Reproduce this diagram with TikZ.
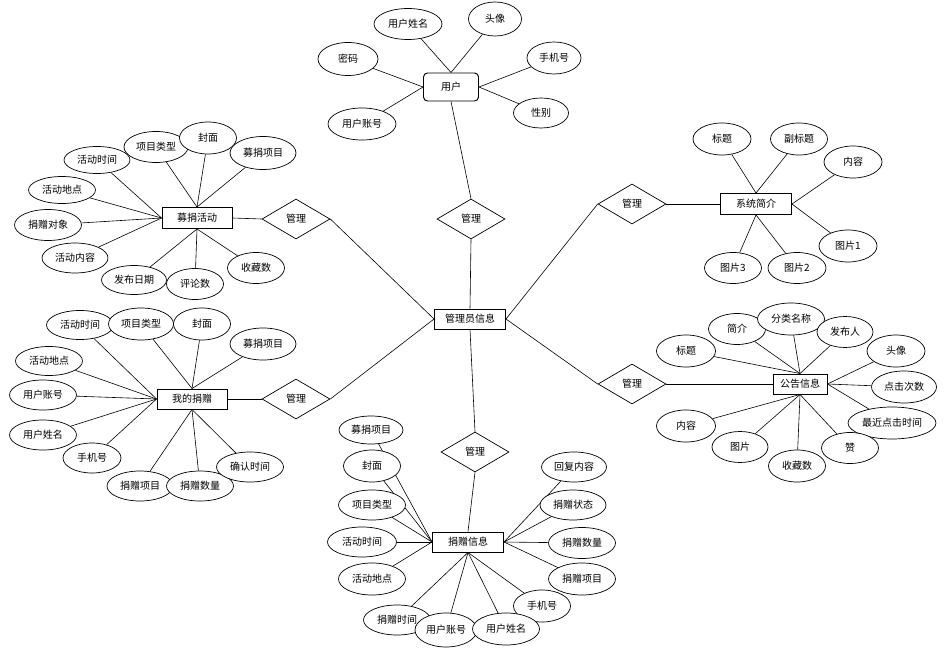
\documentclass[tikz,border=0pt]{standalone}
\usepackage{fontspec}
\newfontfamily\cjk{Noto Sans CJK SC}
\usetikzlibrary{shapes.geometric,backgrounds}
\begin{document}
\begin{tikzpicture}[x=1pt,y=-1pt,
  font=\cjk\fontsize{10}{12}\selectfont,
  attr/.style n args={2}{ellipse,draw,fill=white,line width=0.7pt,inner sep=0pt,minimum width=#1pt,minimum height=#2pt},
  ent/.style n args={2}{rectangle,draw,fill=white,line width=0.95pt,inner sep=0pt,minimum width=#1pt,minimum height=#2pt},
  rel/.style={diamond,draw,fill=white,line width=0.7pt,inner sep=0pt,minimum width=68pt,minimum height=40pt,shape aspect=1.7},
  ln/.style={draw,line width=0.6pt}]
\useasboundingbox (0,0) rectangle (944,652);

% central
\node[ent={71}{20}] (admin) at (470,319) {管理员信息};
\node[rel] (mgT) at (471,219) {管理};
\node[rel] (mgUL) at (296,219) {管理};
\node[rel] (mgLL) at (296,399) {管理};
\node[rel] (mgUR) at (632,204) {管理};
\node[rel] (mgLR) at (632,384) {管理};
\node[rel] (mgB) at (475,452) {管理};

% user
\node[ent={55}{28},rounded corners=4pt] (user) at (451,87) {用户};
\node[attr={68}{31}] (uName) at (408,24) {用户姓名};
\node[attr={53}{34}] (uAv) at (495,19) {头像};
\node[attr={60}{33}] (uPw) at (348,59) {密码};
\node[attr={54}{32}] (uPh) at (554,58) {手机号};
\node[attr={68}{32}] (uAcc) at (362,124) {用户账号};
\node[attr={55}{30}] (uSex) at (541,113) {性别};

% fundraising activity
\node[ent={70}{21}] (act) at (197,218) {募捐活动};
\node[attr={66}{27}] (a1) at (97,160) {活动时间};
\node[attr={64}{31}] (a2) at (156,147) {项目类型};
\node[attr={57}{32}] (a3) at (208,138) {封面};
\node[attr={66}{33}] (a4) at (263,153) {募捐项目};
\node[attr={67}{27}] (a5) at (62,190) {活动地点};
\node[attr={67}{31}] (a6) at (48,225) {捐赠对象};
\node[attr={66}{30}] (a7) at (75,258) {活动内容};
\node[attr={65}{29}] (a8) at (134,280) {发布日期};
\node[attr={57}{31}] (a9) at (195,284) {评论数};
\node[attr={57}{31}] (a10) at (256,268) {收藏数};

% my donation
\node[ent={70}{20}] (my) at (192,399) {我的捐赠};
\node[attr={67}{29}] (m1) at (80,325) {活动时间};
\node[attr={65}{32}] (m2) at (141,324) {项目类型};
\node[attr={57}{32}] (m3) at (202,324) {封面};
\node[attr={66}{32}] (m4) at (263,344) {募捐项目};
\node[attr={67}{29}] (m5) at (49,361) {活动地点};
\node[attr={67}{30}] (m6) at (43,395) {用户账号};
\node[attr={67}{30}] (m7) at (43,435) {用户姓名};
\node[attr={58}{30}] (m8) at (92,458) {手机号};
\node[attr={66}{30}] (m9) at (140,486) {捐赠项目};
\node[attr={67}{30}] (m10) at (200,486) {捐赠数量};
\node[attr={67}{30}] (m11) at (250,467) {确认时间};

% system intro
\node[ent={71}{21}] (sys) at (756,204) {系统简介};
\node[attr={58}{32}] (s1) at (722,139) {标题};
\node[attr={57}{32}] (s2) at (799,139) {副标题};
\node[attr={58}{32}] (s3) at (853,162) {内容};
\node[attr={58}{32}] (s4) at (848,246) {图片1};
\node[attr={57}{31}] (s5) at (733,268) {图片3};
\node[attr={58}{31}] (s6) at (797,268) {图片2};

% announcement
\node[ent={54}{20}] (ann) at (800,384) {公告信息};
\node[attr={59}{32}] (n1) at (686,351) {标题};
\node[attr={57}{31}] (n2) at (737,329) {简介};
\node[attr={67}{32}] (n3) at (791,319) {分类名称};
\node[attr={56}{31}] (n4) at (845,332) {发布人};
\node[attr={58}{32}] (n5) at (896,351) {头像};
\node[attr={65}{32}] (n6) at (904,387) {点击次数};
\node[attr={88}{32}] (n7) at (892,423) {最近点击时间};
\node[attr={57}{31}] (n8) at (850,448) {赞};
\node[attr={57}{32}] (n9) at (797,466) {收藏数};
\node[attr={56}{31}] (n10) at (740,447) {图片};
\node[attr={59}{32}] (n11) at (686,426) {内容};

% donation info
\node[ent={71}{20}] (don) at (468,542) {捐赠信息};
\node[attr={64}{28}] (d1) at (371,430) {募捐项目};
\node[attr={57}{32}] (d2) at (372,466) {封面};
\node[attr={67}{30}] (d3) at (372,505) {项目类型};
\node[attr={69}{30}] (d4) at (362,542) {活动时间};
\node[attr={67}{32}] (d5) at (372,579) {活动地点};
\node[attr={65}{30}] (d6) at (574,467) {回复内容};
\node[attr={66}{30}] (d7) at (573,505) {捐赠状态};
\node[attr={67}{31}] (d8) at (582,543) {捐赠数量};
\node[attr={67}{32}] (d9) at (582,579) {捐赠项目};
\node[attr={57}{32}] (d10) at (542,606) {手机号};
\node[attr={67}{30}] (d11) at (397,620) {捐赠时间};
\node[attr={62}{34}] (d12) at (446,630) {用户账号};
\node[attr={67}{32}] (d13) at (506,629) {用户姓名};

\begin{pgfonlayer}{background}
\draw[ln] (user.north) -- (uName);
\draw[ln] (user.north) -- (uAv);
\draw[ln] (user.west) -- (uPw);
\draw[ln] (user.west) -- (uAcc);
\draw[ln] (user.east) -- (uPh);
\draw[ln] (user.east) -- (uSex);
\foreach \n in {a1,a5,a6,a7} \draw[ln] (act.west) -- (\n);
\foreach \n in {a2,a3,a4} \draw[ln] (act.north) -- (\n);
\foreach \n in {a8,a9,a10} \draw[ln] (act.south) -- (\n);
\foreach \n in {m1,m5,m6,m7,m8} \draw[ln] (my.west) -- (\n);
\foreach \n in {m2,m3,m4} \draw[ln] (my.north) -- (\n);
\foreach \n in {m9,m10,m11} \draw[ln] (my.south) -- (\n);
\foreach \n in {s1,s2} \draw[ln] (sys.north) -- (\n);
\foreach \n in {s3,s4} \draw[ln] (sys.east) -- (\n);
\foreach \n in {s5,s6} \draw[ln] (sys.south) -- (\n);
\foreach \n in {n1,n2,n3,n4} \draw[ln] (ann.north) -- (\n);
\foreach \n in {n5,n6,n7} \draw[ln] (ann.east) -- (\n);
\foreach \n in {n8,n9,n10,n11} \draw[ln] (ann.south) -- (\n);
\foreach \n in {d1,d2,d3,d4,d5} \draw[ln] (don.west) -- (\n);
\foreach \n in {d6,d7,d8,d9} \draw[ln] (don.east) -- (\n);
\foreach \n in {d10,d11,d12,d13} \draw[ln] (don.south) -- (\n);
% relationships
\draw[ln] (mgT.north) -- (user.south);
\draw[ln] (mgT.south) -- (admin.north);
\draw[ln] (mgUL.east) -- (admin.west);
\draw[ln] (mgLL.east) -- (admin.west);
\draw[ln] (mgUR.west) -- (admin.east);
\draw[ln] (mgLR.west) -- (admin.east);
\draw[ln] (admin.south) -- (mgB.north);
\draw[ln] (mgB.south) -- (don.north);
\draw[ln] (act.east) -- (mgUL.west);
\draw[ln] (my.east) -- (mgLL.west);
\draw[ln] (mgUR.east) -- (sys.west);
\draw[ln] (mgLR.east) -- (ann.west);
\end{pgfonlayer}
\end{tikzpicture}
\end{document}
